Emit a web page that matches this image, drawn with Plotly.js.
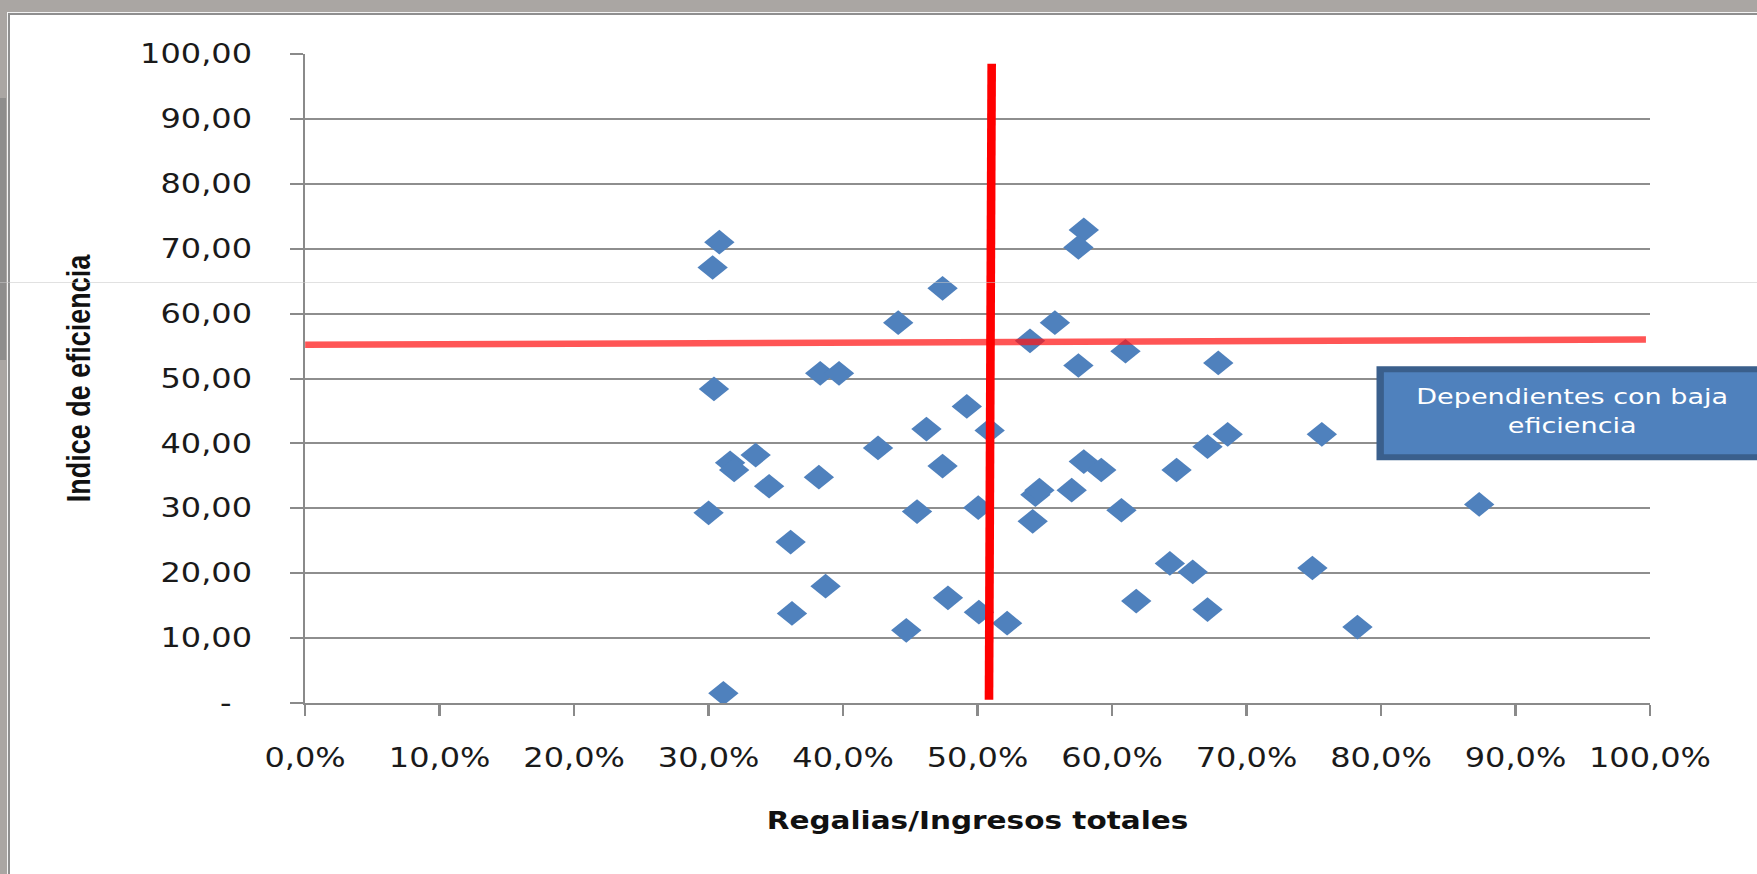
<!DOCTYPE html>
<html>
<head>
<meta charset="utf-8">
<script src="https://cdn.plot.ly/plotly-3.0.1.min.js"></script>
<style>
  html, body { margin:0; padding:0; }
  body { width:1757px; height:874px; overflow:hidden; background:#aaa6a3; position:relative; }
  #strip { position:absolute; left:0; top:98px; width:6px; height:262px; background:#8e8d8c; }
  #frame { position:absolute; left:8px; top:13px; width:1780px; height:900px; background:#ffffff;
           border:2px solid #8f8f8f; outline:1px solid #f4f4f4; }
  #chart { position:absolute; left:0; top:0; width:1428px; height:874px;
           transform:scaleX(1.2304); transform-origin:0 0; }
  #faint { position:absolute; left:0; top:282px; width:1757px; height:1px; background:rgba(200,200,200,0.55); }
</style>
</head>
<body>
<div id="strip"></div>
<div id="frame"></div>
<div id="chart"></div>
<div id="faint"></div>
<script>
// ---- data (x = Regalias/Ingresos totales as fraction, y = Indice de eficiencia) ----
const regaliasRatio = [
  0.308, 0.303, 0.304, 0.300, 0.311, 0.316, 0.319, 0.335, 0.345, 0.361,
  0.362, 0.383, 0.397, 0.382, 0.387, 0.426, 0.441, 0.447, 0.455, 0.462,
  0.474, 0.474, 0.478, 0.492, 0.5005, 0.501, 0.509, 0.522, 0.539, 0.5575,
  0.541, 0.543, 0.546, 0.570, 0.579, 0.575, 0.575, 0.579, 0.592, 0.607,
  0.610, 0.618, 0.643, 0.648, 0.660, 0.671, 0.671, 0.686, 0.679, 0.756,
  0.749, 0.7825, 0.873
];
const indiceEficiencia = [
  71.0, 67.1, 48.4, 29.3, 1.5, 37.0, 35.9, 38.2, 33.4, 24.8,
  13.8, 50.8, 50.8, 34.8, 18.0, 39.3, 58.6, 11.2, 29.5, 42.2,
  63.9, 36.5, 16.2, 45.7, 30.1, 14.0, 42.0, 12.3, 55.8, 58.6,
  28.0, 32.1, 32.8, 32.8, 72.9, 70.2, 52.0, 37.2, 35.9, 29.7,
  54.2, 15.7, 21.5, 35.9, 20.2, 14.4, 39.5, 41.4, 52.4, 41.4,
  20.8, 11.7, 30.6
];
// reference lines (hand drawn in the original)
const hLineX = [-0.009, 0.997];
const hLineY = [55.2, 56.0];
const vLineX = [0.5105, 0.5085];
const vLineY = [98.5, 0.5];

const xTickVals = [0, 0.1, 0.2, 0.3, 0.4, 0.5, 0.6, 0.7, 0.8, 0.9, 1.0];
const xTickText = ['0,0%', '10,0%', '20,0%', '30,0%', '40,0%', '50,0%', '60,0%', '70,0%', '80,0%', '90,0%', '100,0%'];
const yTickVals = [0, 10, 20, 30, 40, 50, 60, 70, 80, 90, 100];
const yTickText = ['-\u00a0\u00a0', '10,00', '20,00', '30,00', '40,00', '50,00', '60,00', '70,00', '80,00', '90,00', '100,00'];

const xTitle = 'Regalias/Ingresos totales';
const yTitle = 'Indice de eficiencia';
const boxText = 'Dependientes con baja<br>eficiencia';

// ---- traces ----
const traces = [
  {
    type: 'scatter', mode: 'markers',
    x: regaliasRatio, y: indiceEficiencia,
    marker: { symbol: 'diamond', size: 19, color: '#4f81bd', line: { width: 0 } },
    hoverinfo: 'skip'
  },
  {
    type: 'scatter', mode: 'lines',
    x: hLineX, y: hLineY, cliponaxis: false,
    line: { color: 'rgba(255,20,20,0.72)', width: 6.5 },
    hoverinfo: 'skip'
  },
  {
    type: 'scatter', mode: 'lines',
    x: vLineX, y: vLineY, cliponaxis: false,
    line: { color: '#ff0000', width: 7 },
    hoverinfo: 'skip'
  }
];

const tickFont = { family: 'DejaVu Sans', size: 26, color: '#1a1a1a' };

const layout = {
  width: 1428, height: 874,
  margin: { l: 248, r: 87, t: 54, b: 171, pad: 0 },
  paper_bgcolor: 'rgba(0,0,0,0)',
  plot_bgcolor: 'rgba(0,0,0,0)',
  showlegend: false,
  xaxis: {
    range: [0, 1], fixedrange: true,
    tickmode: 'array', tickvals: xTickVals, ticktext: xTickText,
    showgrid: false, zeroline: false,
    showline: true, linecolor: '#8a8a8a', linewidth: 2,
    ticks: 'outside', ticklen: 11, tickwidth: 2, tickcolor: '#8a8a8a',
    ticklabelstandoff: 20,
    tickfont: tickFont,
    title: { text: xTitle, standoff: 40,
             font: { family: 'DejaVu Sans', size: 24, color: '#111', weight: 'bold' } }
  },
  yaxis: {
    range: [0, 100], fixedrange: true,
    tickmode: 'array', tickvals: yTickVals, ticktext: yTickText,
    showgrid: true, gridcolor: '#8e8e8e', gridwidth: 2,
    zeroline: false,
    showline: true, linecolor: '#8a8a8a', linewidth: 2,
    ticks: 'outside', ticklen: 10, tickwidth: 2, tickcolor: '#8a8a8a',
    ticklabelstandoff: 26,
    tickfont: tickFont,
    title: { text: yTitle, standoff: 32,
             font: { family: 'Liberation Sans', size: 27, color: '#111', weight: 'bold' } }
  },
  shapes: [
    { type: 'rect', xref: 'paper', yref: 'paper', layer: 'above',
      x0: 0.7994, x1: 1.15, y0: 0.3785, y1: 0.5142,
      fillcolor: '#4f81bd', line: { color: '#3a5f8c', width: 6 } }
  ],
  annotations: [
    { xref: 'paper', yref: 'paper', x: 0.9424, y: 0.4496,
      xanchor: 'center', yanchor: 'middle', showarrow: false, align: 'center',
      text: boxText,
      font: { family: 'DejaVu Sans', size: 22, color: '#ffffff' } }
  ]
};

Plotly.newPlot('chart', traces, layout, { displayModeBar: false, staticPlot: true });
</script>
</body>
</html>
